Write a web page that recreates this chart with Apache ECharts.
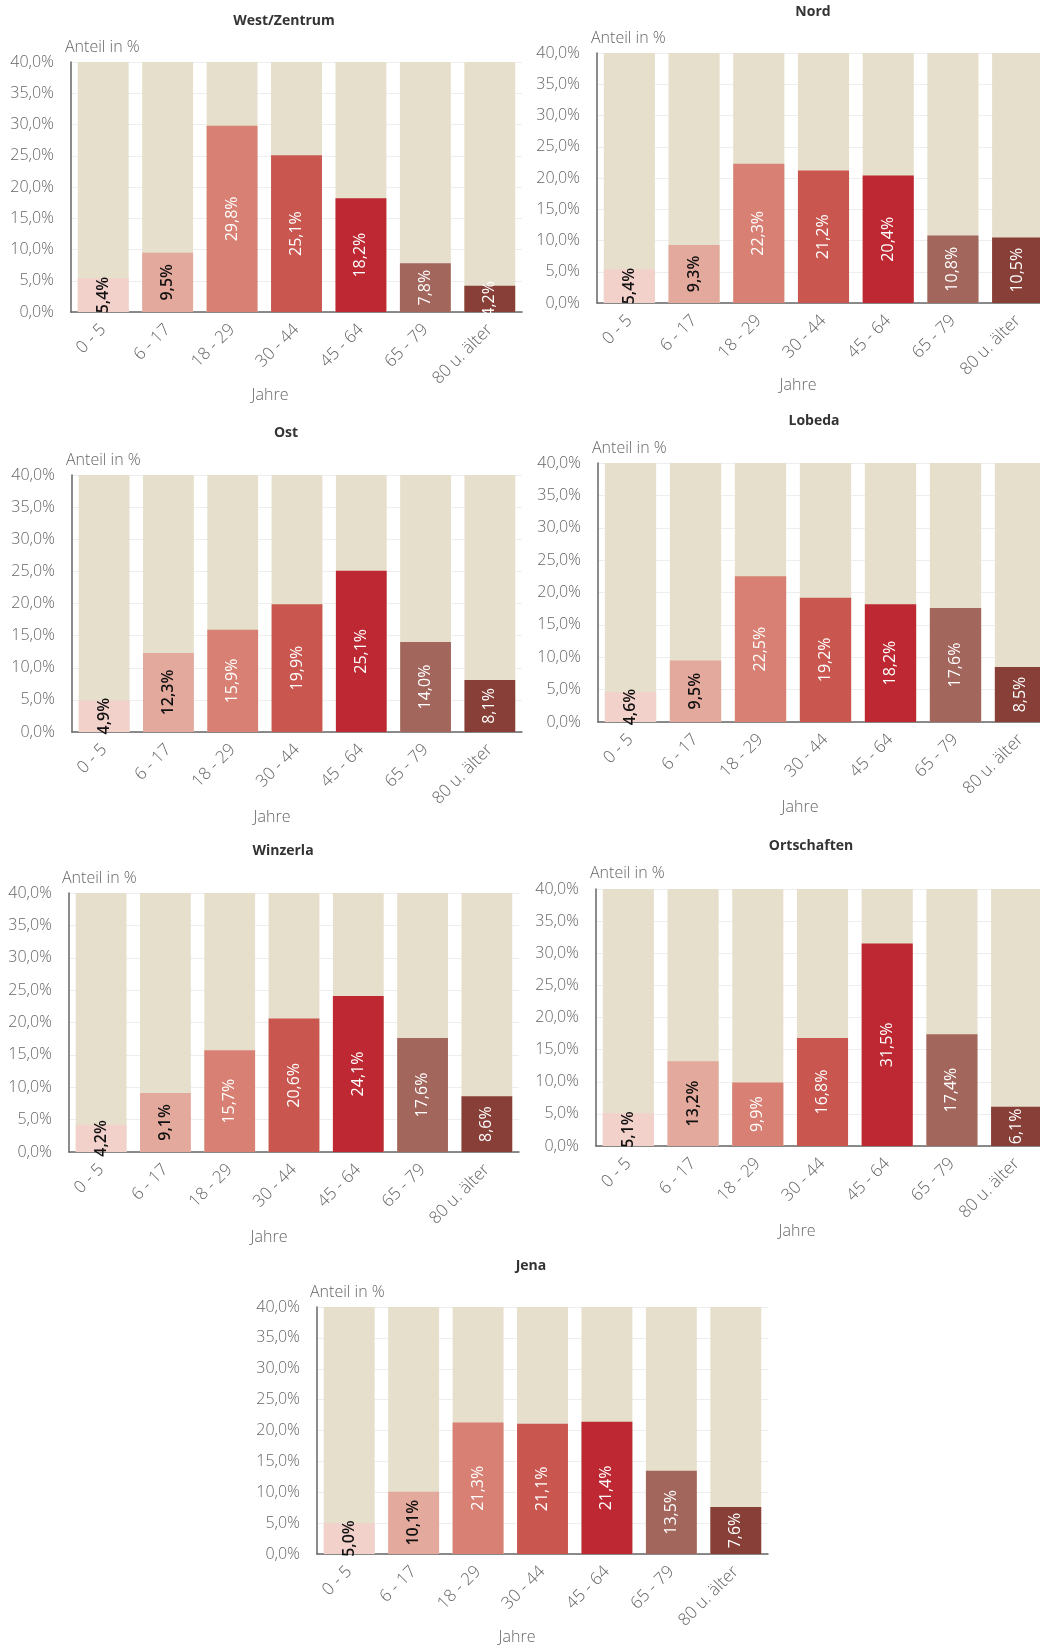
<!DOCTYPE html>
<html>
<head>
<meta charset="utf-8">
<script src="https://cdn.jsdelivr.net/npm/echarts@6/dist/echarts.min.js"></script>
<style>
    html, body { margin: 0; padding: 0; background: #fff; }
    #chart { width: 1040px; height: 1648px; }
</style>
</head>
<body>
<div id="chart"></div>
<script>
// Altersgruppen
const categories = ['0 - 5', '6 - 17', '18 - 29', '30 - 44', '45 - 64', '65 - 79', '80 u. älter'];
const yTicks = [0, 5, 10, 15, 20, 25, 30, 35, 40];

const panelNames = ['West/Zentrum', 'Nord', 'Ost', 'Lobeda', 'Winzerla', 'Ortschaften', 'Jena'];

// Anteil in %
const westZentrum = [5.4, 9.5, 29.8, 25.1, 18.2, 7.8, 4.2];
const nord        = [5.4, 9.3, 22.3, 21.2, 20.4, 10.8, 10.5];
const ost         = [4.9, 12.3, 15.9, 19.9, 25.1, 14.0, 8.1];
const lobeda      = [4.6, 9.5, 22.5, 19.2, 18.2, 17.6, 8.5];
const winzerla    = [4.2, 9.1, 15.7, 20.6, 24.1, 17.6, 8.6];
const ortschaften = [5.1, 13.2, 9.9, 16.8, 31.5, 17.4, 6.1];
const jena        = [5.0, 10.1, 21.3, 21.1, 21.4, 13.5, 7.6];

const panelValues = [westZentrum, nord, ost, lobeda, winzerla, ortschaften, jena];

// Farben je Altersgruppe
const barColors = ['#f2d1cb', '#e4a99d', '#d88073', '#c95750', '#bd2832', '#a3665c', '#873f38'];
const labelColors = ['#111', '#111', '#fff', '#fff', '#fff', '#fff', '#fff'];

// Lage der Diagramme: [links, oben (40%), Breite, Höhe]
const grids = [
    [71, 62, 451, 250],
    [597, 53, 453, 250],
    [72, 475, 450, 257],
    [598, 463, 455, 259],
    [69, 893, 450, 259],
    [596, 889, 453, 257],
    [317, 1307, 451, 247]
];
// Titel, "Anteil in %" und "Jahre": [x, y]
const titlePos  = [[284, 21], [813, 12], [286, 433], [814, 421], [283, 851], [811, 846], [531, 1266]];
const anteilPos = [[65, 47], [591, 38], [66, 460], [592, 448], [62, 878], [590, 873], [310, 1292]];
const jahrePos  = [[270, 395], [798, 385], [272, 817], [800, 807], [269, 1237], [797, 1231], [517, 1637]];

const FONT = '"Open Sans", sans-serif';
const fmt = v => v.toFixed(1).replace('.', ',') + '%';

const chart = echarts.init(document.getElementById('chart'), null, {renderer: 'canvas'});

const option = {
    animation: false,
    backgroundColor: '#fff',
    grid: [],
    xAxis: [],
    yAxis: [],
    series: [],
    graphic: []
};

panelValues.forEach((values, p) => {
    const g = grids[p];

    option.grid.push({
        left: g[0], top: g[1], width: g[2], height: g[3],
        containLabel: false,
        outerBoundsMode: 'none'
    });

    option.xAxis.push({
        type: 'category',
        gridIndex: p,
        data: categories,
        axisLine: {lineStyle: {color: '#666', width: 1.5}},
        axisTick: {show: false},
        axisLabel: {
            interval: 0,
            rotate: 45,
            margin: 15,
            color: '#666',
            fontFamily: FONT,
            fontWeight: 300,
            fontSize: 17
        }
    });

    option.yAxis.push({
        type: 'value',
        gridIndex: p,
        min: yTicks[0],
        max: yTicks[yTicks.length - 1],
        interval: yTicks[1] - yTicks[0],
        axisLine: {show: true, lineStyle: {color: '#666', width: 1.5}},
        axisTick: {show: false},
        splitLine: {lineStyle: {color: '#eeeeee'}},
        axisLabel: {
            margin: 17,
            color: '#666',
            fontFamily: FONT,
            fontWeight: 300,
            fontSize: 16,
            formatter: fmt
        }
    });

    option.series.push({
        type: 'bar',
        xAxisIndex: p,
        yAxisIndex: p,
        barCategoryGap: '21%',
        showBackground: true,
        backgroundStyle: {color: '#e5dfcb'},
        data: values.map((v, i) => ({
            value: v,
            itemStyle: {color: barColors[i]},
            label: {
                color: labelColors[i],
                fontWeight: labelColors[i] === '#fff' ? 'normal' : 600
            }
        })),
        label: {
            show: true,
            position: 'inside',
            rotate: 90,
            fontFamily: FONT,
            fontSize: 16,
            formatter: d => fmt(d.value)
        }
    });

    option.graphic.push({
        type: 'text',
        x: titlePos[p][0],
        y: titlePos[p][1],
        style: {
            text: panelNames[p],
            font: 'bold 14px ' + FONT,
            fill: '#333',
            align: 'center',
            verticalAlign: 'middle'
        }
    }, {
        type: 'text',
        x: anteilPos[p][0],
        y: anteilPos[p][1],
        style: {
            text: 'Anteil in %',
            font: '300 16px ' + FONT,
            fill: '#666',
            align: 'left',
            verticalAlign: 'middle'
        }
    }, {
        type: 'text',
        x: jahrePos[p][0],
        y: jahrePos[p][1],
        style: {
            text: 'Jahre',
            font: '300 16px ' + FONT,
            fill: '#666',
            align: 'center',
            verticalAlign: 'middle'
        }
    });
});

chart.setOption(option);
</script>
</body>
</html>
